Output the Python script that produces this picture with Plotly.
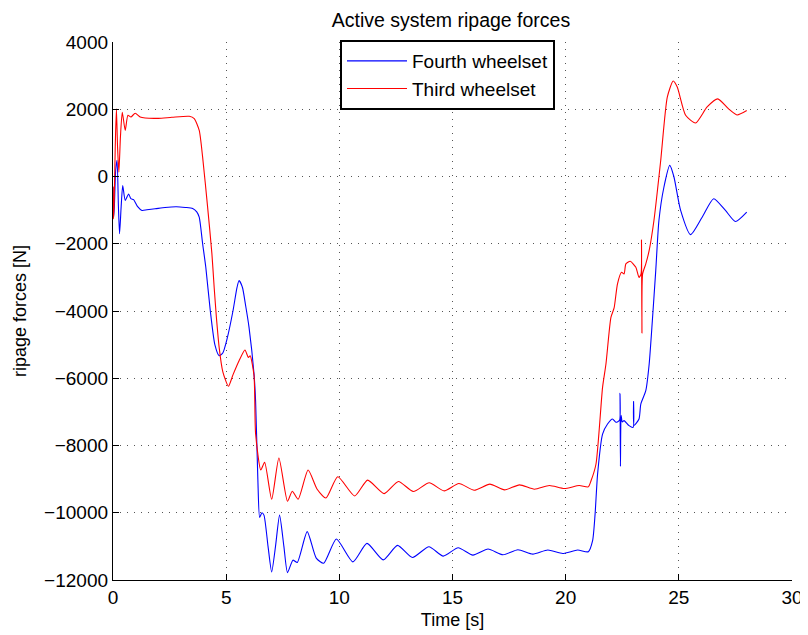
import plotly.graph_objects as go

# ---------------- data ----------------
fourth_t = [0.0, 0.03, 0.06, 0.12, 0.18, 0.24, 0.29, 0.36, 0.43, 0.54, 0.69, 0.79, 0.91, 1.08, 1.28,
            1.5, 1.86, 2.3, 2.8, 3.2, 3.52, 3.7, 3.81, 3.96, 4.1, 4.3, 4.5, 4.69, 4.85, 5.05, 5.3, 5.48,
            5.57, 5.72, 5.85, 6.01, 6.23, 6.3, 6.4, 6.48, 6.58, 6.67, 6.85, 7.01, 7.18, 7.36, 7.55, 7.71,
            7.95, 8.14, 8.58, 8.98, 9.31, 9.87, 10.6, 11.22, 11.94, 12.57, 13.23, 13.96, 14.59, 15.25,
            15.9, 16.57, 17.23, 17.89, 18.55, 19.21, 19.87, 20.53, 21.0, 21.19, 21.3, 21.41, 21.63,
            21.85, 22.07, 22.22, 22.38, 22.4, 22.42, 22.45, 22.5, 22.58, 22.8, 22.98, 23.0, 23.02,
            23.24, 23.32, 23.54, 23.69, 23.83, 23.98, 24.12, 24.34, 24.6, 24.78, 25.08, 25.52, 26.03,
            26.54, 27.06, 27.5, 28.0]
fourth_f = [-320, -1210, -900, 200, 480, -900, -1700, -900, -270, -710, -520, -660, -690, -890, -1010,
            -990, -960, -920, -900, -920, -950, -1050, -1210, -2000, -2700, -4000, -5000, -5330, -5250,
            -4800, -4000, -3300, -3095, -3300, -3800, -4485, -5870, -6670, -9000, -10140, -10000, -10070,
            -11000, -11760, -11000, -10070, -11000, -11780, -11410, -11480, -10560, -11350, -11500,
            -10780, -11460, -10910, -11400, -10970, -11330, -11010, -11290, -11040, -11260, -11080,
            -11250, -11100, -11230, -11110, -11210, -11110, -11160, -10830, -10040, -8850, -7660,
            -7360, -7210, -7310, -7250, -6450, -8620, -7100, -7300, -7260, -7410, -7460, -6690, -7400,
            -7210, -6770, -6370, -5575, -4290, -2800, -1310, -320, 330, 0, -1010, -1730, -1210, -660,
            -1010, -1340, -1060]

third_t = [0.0, 0.02, 0.05, 0.1, 0.15, 0.2, 0.26, 0.33, 0.41, 0.54, 0.66, 0.79, 0.98, 1.2, 1.42,
           2.0, 2.6, 3.37, 3.59, 3.81, 3.96, 4.18, 4.37, 4.47, 4.57, 4.69, 4.85, 5.1, 5.3, 5.57, 5.83,
           5.98, 6.06, 6.23, 6.3, 6.53, 6.7, 7.01, 7.33, 7.71, 7.92, 8.18, 8.62, 9.02, 9.41, 9.93,
           10.68, 11.25, 11.98, 12.61, 13.27, 13.97, 14.63, 15.28, 15.96, 16.65, 17.3, 17.96, 18.62,
           19.28, 19.94, 20.6, 21.0, 21.12, 21.34, 21.63, 21.78, 22.0, 22.14, 22.29, 22.47, 22.58,
           22.66, 22.85, 23.1, 23.24, 23.33, 23.35, 23.37, 23.4, 23.54, 23.69, 23.9, 24.2, 24.49,
           24.75, 24.93, 25.3, 25.74, 26.25, 26.72, 27.2, 27.57, 28.0]
third_f = [-300, -1260, -800, 900, 2010, 900, 130, 1200, 1910, 1370, 1820, 1770, 1880, 1770, 1740,
           1730, 1760, 1790, 1720, 1370, 575, -910, -2300, -3300, -4200, -5080, -5800, -6240, -5900,
           -5480, -5160, -5380, -5330, -5920, -7650, -8730, -8500, -9600, -8370, -9660, -9360, -9600,
           -8730, -9300, -9560, -8930, -9500, -9030, -9430, -9070, -9370, -9110, -9350, -9130, -9330,
           -9150, -9320, -9170, -9300, -9190, -9280, -9190, -9230, -9050, -8550, -6270, -5575, -4190,
           -3910, -3190, -2850, -2900, -2600, -2520, -2700, -3000, -2900, -1880, -4660, -2900, -2600,
           -2200, -1310, 480, 2360, 2840, 2660, 1820, 1590, 2070, 2310, 2010, 1830, 1960]

series_names = ["Fourth wheelset", "Third wheelset"]
series_colors = ["#0000ff", "#ff0000"]

x_ticks = [0, 5, 10, 15, 20, 25, 30]
y_ticks = [-12000, -10000, -8000, -6000, -4000, -2000, 0, 2000, 4000]
y_tick_labels = ["\u221212000", "\u221210000", "\u22128000", "\u22126000", "\u22124000",
                 "\u22122000", "0", "2000", "4000"]

title_text = "Active system ripage forces"
x_title = "Time [s]"
y_title = "ripage forces [N]"

# ---------------- figure ----------------
FONT = "Liberation Sans, Arial, Helvetica, sans-serif"
W, H = 808, 635
OFF = 8  # page body margin offset

fig = go.Figure()
for t, f, name, col in [(fourth_t, fourth_f, series_names[0], series_colors[0]),
                        (third_t, third_f, series_names[1], series_colors[1])]:
    fig.add_trace(go.Scatter(x=t, y=f, mode="lines", name=name,
                             line=dict(color=col, width=1.1, shape="spline", smoothing=0.6)))

grid = dict(showgrid=True, gridcolor="#555555", gridwidth=1, griddash="1px,6px",
            zeroline=False, showline=True, linecolor="black", linewidth=1.3,
            ticks="inside", ticklen=6, tickcolor="black", tickwidth=1,
            tickfont=dict(family=FONT, size=19, color="black"), mirror=False)

fig.update_layout(
    width=W, height=H,
    paper_bgcolor="white", plot_bgcolor="white",
    margin=dict(l=110 - OFF, r=W - 792 + OFF, t=42 - OFF, b=H - 580 + OFF),
    title=dict(text=title_text, x=(451 - OFF) / W, xanchor="center",
               y=1 - (20 - OFF) / H, yanchor="middle",
               font=dict(family=FONT, size=19.5, color="black")),
    xaxis=dict(range=[0, 30], tickvals=x_ticks,
               title=dict(text=x_title, font=dict(family=FONT, size=18, color="black"), standoff=6),
               **grid),
    yaxis=dict(range=[-12000, 4000], tickvals=y_ticks, ticktext=y_tick_labels,
               title=dict(text=y_title, font=dict(family=FONT, size=18, color="black"), standoff=12),
               **grid),
    legend=dict(x=(338 - 110) / 682, y=1.0 + 2 / 538, xanchor="left", yanchor="top",
                bordercolor="black", borderwidth=2, bgcolor="white",
                font=dict(family=FONT, size=19, color="black"),
                tracegroupgap=0, itemwidth=60),
    showlegend=True,
)

fig.write_html("out.html")
